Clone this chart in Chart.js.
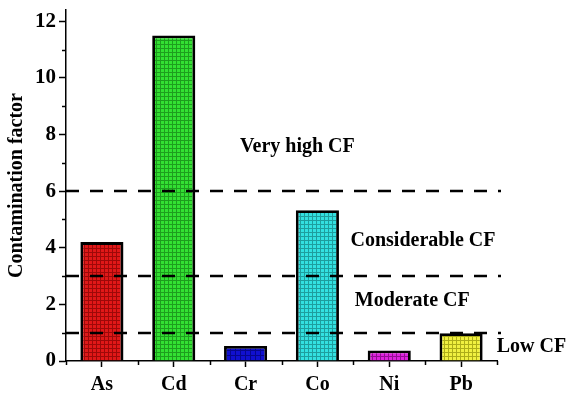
<!DOCTYPE html>
<html lang="en">
<head>
    <meta charset="UTF-8">
    <title>Contamination factor</title>
    <script src="https://cdn.jsdelivr.net/npm/chart.js"></script>
    <style>
        body { margin: 0; padding: 0; background: #fff; }
        #wrap { width: 567px; height: 393px; }
    </style>
</head>
<body>
    <div id="wrap"><canvas id="cfChart" width="567" height="393"></canvas></div>

    <script>
        // data
        const elements = ["As", "Cd", "Cr", "Co", "Ni", "Pb"];
        const cfValues = [4.2, 11.5, 0.53, 5.33, 0.37, 0.98];
        const barColors = ["#e01818", "#33e033", "#1010d0", "#33e0e0", "#dd22dd", "#f0f040"];
        const gridColors = ["#700000", "#107010", "#000060", "#107070", "#600060", "#808000"];
        const thresholds = [1, 3, 6];
        const zoneLabels = ["Very high CF", "Considerable CF", "Moderate CF", "Low CF"];
        const zoneLabelX = [2.72, 4.47, 4.32, 5.98];   // category index units
        const zoneLabelY = [7.55, 4.24, 2.12, 0.5];    // data units
        const yTicks = [0, 2, 4, 6, 8, 10, 12];

        const serif = "'Liberation Serif', 'Times New Roman', serif";

        function makePattern(fill, line, size) {
            const c = document.createElement("canvas");
            c.width = size;
            c.height = size;
            const g = c.getContext("2d");
            g.fillStyle = fill;
            g.fillRect(0, 0, size, size);
            g.fillStyle = line;
            g.globalAlpha = 0.6;
            g.fillRect(0, 0, size, 1);
            g.fillRect(0, 1, 1, size - 1);
            return g.createPattern(c, "repeat");
        }

        const ctx = document.getElementById("cfChart").getContext("2d");
        const patterns = barColors.map((c, i) => makePattern(c, gridColors[i], i === 2 ? 5 : 4));

        // dashed lines, minor ticks and zone labels
        const extras = {
            id: "extras",
            afterDatasetsDraw(chart) {
                const { ctx, chartArea, scales } = chart;
                const x = scales.x, y = scales.y;
                ctx.save();
                ctx.strokeStyle = "#000";
                ctx.lineWidth = 1.5;
                // minor y ticks
                for (let v = 1; v < 12; v += 2) {
                    const py = Math.round(y.getPixelForValue(v)) + 0.5;
                    ctx.beginPath();
                    ctx.moveTo(chartArea.left - 4, py);
                    ctx.lineTo(chartArea.left, py);
                    ctx.stroke();
                }
                // minor x ticks on category boundaries
                for (let i = 0; i <= elements.length; i++) {
                    const px = Math.round(x.getPixelForValue(i - 0.5)) + 0.5;
                    ctx.beginPath();
                    ctx.moveTo(px, chartArea.bottom);
                    ctx.lineTo(px, chartArea.bottom + 4);
                    ctx.stroke();
                }
                // threshold lines
                ctx.lineWidth = 2.5;
                ctx.setLineDash([13, 11]);
                thresholds.forEach(t => {
                    const py = Math.round(y.getPixelForValue(t));
                    ctx.beginPath();
                    ctx.moveTo(chartArea.left, py);
                    ctx.lineTo(chartArea.right + 4, py);
                    ctx.stroke();
                });
                ctx.setLineDash([]);
                // zone labels
                ctx.fillStyle = "#000";
                ctx.font = "bold 20px " + serif;
                ctx.textAlign = "center";
                ctx.textBaseline = "middle";
                zoneLabels.forEach((lbl, i) => {
                    ctx.fillText(lbl, x.getPixelForValue(zoneLabelX[i]), y.getPixelForValue(zoneLabelY[i]));
                });
                ctx.restore();
            }
        };

        new Chart(ctx, {
            type: "bar",
            data: {
                labels: elements,
                datasets: [{
                    data: cfValues,
                    backgroundColor: patterns,
                    borderColor: "#000",
                    borderWidth: 2.8,
                    borderSkipped: "bottom",
                    barPercentage: 0.6,
                    categoryPercentage: 1
                }]
            },
            options: {
                responsive: false,
                animation: false,
                layout: { padding: { top: 10, right: 70, left: 0, bottom: 0 } },
                plugins: {
                    legend: { display: false },
                    tooltip: { enabled: false }
                },
                scales: {
                    x: {
                        offset: true,
                        grid: { display: true, drawOnChartArea: false, offset: false, tickLength: 6, tickColor: "#000", tickWidth: 1.5 },
                        border: { display: true, color: "#000", width: 1.5 },
                        ticks: { color: "#000", padding: 6, font: { family: serif, size: 20, weight: "bold" } },
                        afterFit(scale) { scale.height = 32; }
                    },
                    y: {
                        min: 0,
                        max: 12.4,
                        afterBuildTicks(scale) { scale.ticks = yTicks.map(v => ({ value: v })); },
                        grid: { display: true, drawOnChartArea: false, tickLength: 7, tickColor: "#000", tickWidth: 1.5 },
                        border: { display: true, color: "#000", width: 1.5 },
                        ticks: { color: "#000", padding: 3, font: { family: serif, size: 21, weight: "bold" } },
                        title: {
                            display: true,
                            text: "Contamination factor",
                            color: "#000",
                            padding: { top: 5, bottom: 0 },
                            font: { family: serif, size: 20, weight: "bold" }
                        },
                        afterFit(scale) {
                            scale.width = 66;
                            scale.paddingTop = 0;
                            scale.paddingBottom = 0;
                        }
                    }
                }
            },
            plugins: [extras]
        });
    </script>
</body>
</html>
